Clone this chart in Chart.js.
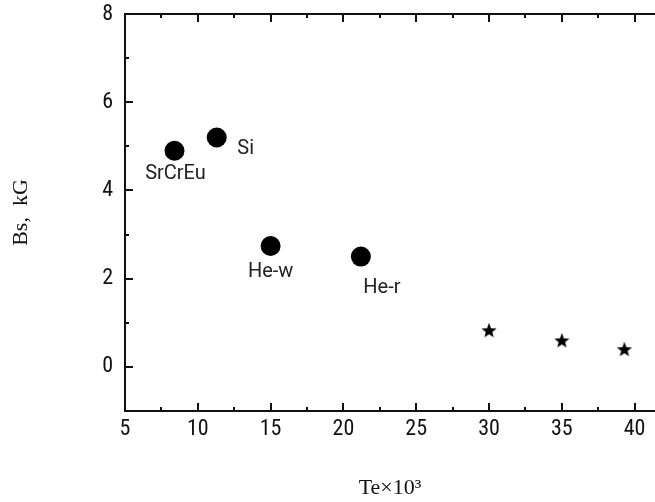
<!DOCTYPE html>
<html>
<head>
<meta charset="utf-8">
<script src="https://cdn.jsdelivr.net/npm/chart.js@4.4.0/dist/chart.umd.min.js"></script>
<style>
  html, body { margin: 0; padding: 0; background: #fff; overflow: hidden; }
  #wrap { width: 655px; height: 502px; }
</style>
</head>
<body>
<div id="wrap"><canvas id="bsChart" width="655" height="502"></canvas></div>
<script>
// ===== data =====
const circleNames = ["SrCrEu", "Si", "He-w", "He-r"];
const circleTe    = [8.4, 11.3, 15.0, 21.2];
const circleBs    = [4.9, 5.2, 2.74, 2.5];

const starTe = [30.0, 35.0, 39.3];
const starBs = [0.83, 0.6, 0.4];

// label placement relative to each circle (px)
const labelOffsets = [[1, 23], [29, 11], [0, 26], [21, 31]];

const tickFont  = "'Liberation Sans Narrow', 'Roboto Condensed', Roboto, sans-serif";
const titleFont = "'Liberation Serif', 'DejaVu Serif', serif";

// filled five-point star used as the point style
function makeStar(size) {
    const c = document.createElement("canvas");
    c.width = size; c.height = size;
    const g = c.getContext("2d");
    const cx = size / 2, cy = size / 2 + 0.6;
    const R = size / 2, r = R * 0.42;
    g.beginPath();
    for (let i = 0; i < 10; i++) {
        const rad = i % 2 === 0 ? R : r;
        const a = -Math.PI / 2 + i * Math.PI / 5;
        const px = cx + rad * Math.cos(a);
        const py = cy + rad * Math.sin(a);
        if (i === 0) g.moveTo(px, py); else g.lineTo(px, py);
    }
    g.closePath();
    g.fillStyle = "#000";
    g.fill();
    return c;
}

// no automatic label overhang padding; the plot box is fixed
function noPad(s) {
    s.paddingLeft = 0; s.paddingRight = 0;
    s.paddingTop = 0;  s.paddingBottom = 0;
}

// inward tick marks on bottom, top and left axes
const inwardTicks = {
    id: "inwardTicks",
    afterDraw(chart) {
        const ctx = chart.ctx;
        const area = chart.chartArea;
        ctx.save();
        ctx.strokeStyle = "#111";
        ctx.lineWidth = 2;
        const xs = chart.scales.x;
        xs.ticks.forEach(t => {
            const px = Math.round(xs.getPixelForValue(t.value));
            const len = (t.value % 5 === 0) ? 8 : 4;
            ctx.beginPath();
            ctx.moveTo(px, area.bottom); ctx.lineTo(px, area.bottom - len);
            ctx.moveTo(px, area.top);    ctx.lineTo(px, area.top + len);
            ctx.stroke();
        });
        const ys = chart.scales.y;
        ys.ticks.forEach(t => {
            if (t.value <= ys.min) return;
            const py = Math.round(ys.getPixelForValue(t.value));
            const len = (t.value % 2 === 0) ? 8 : 4;
            ctx.beginPath();
            ctx.moveTo(area.left, py); ctx.lineTo(area.left + len, py);
            ctx.stroke();
        });
        ctx.restore();
    }
};

// text names next to the circles
const pointNames = {
    id: "pointNames",
    afterDatasetsDraw(chart) {
        const ctx = chart.ctx;
        const meta = chart.getDatasetMeta(0);
        ctx.save();
        ctx.font = "20px Roboto, 'Liberation Sans', sans-serif";
        ctx.fillStyle = "#222";
        ctx.textAlign = "center";
        ctx.textBaseline = "middle";
        meta.data.forEach((el, i) => {
            const off = labelOffsets[i];
            ctx.fillText(circleNames[i], el.x + off[0], el.y + off[1]);
        });
        ctx.restore();
    }
};

document.addEventListener("DOMContentLoaded", () => {
    const ctx = document.getElementById("bsChart");

    new Chart(ctx, {
        type: "scatter",
        data: {
            datasets: [
                {
                    label: "groups",
                    data: circleTe.map((t, i) => ({ x: t, y: circleBs[i] })),
                    pointStyle: "circle",
                    pointRadius: 10,
                    backgroundColor: "#000",
                    borderWidth: 0
                },
                {
                    label: "stars",
                    data: starTe.map((t, i) => ({ x: t, y: starBs[i] })),
                    pointStyle: makeStar(16),
                    pointRadius: 8
                }
            ]
        },
        options: {
            responsive: false,
            animation: false,
            layout: { autoPadding: false, padding: { top: 14, right: 0, bottom: 0, left: 0 } },
            plugins: { legend: { display: false }, tooltip: { enabled: false } },
            scales: {
                x: {
                    type: "linear",
                    position: "bottom",
                    min: 5,
                    max: 41.4,
                    afterFit: s => { s.height = 91; noPad(s); },
                    grid: { display: false, drawTicks: false },
                    border: { display: true, color: "#111", width: 2 },
                    ticks: {
                        stepSize: 2.5,
                        includeBounds: false,
                        autoSkip: false,
                        maxRotation: 0,
                        padding: 5,
                        color: "#111",
                        font: { family: tickFont, size: 22 },
                        callback: v => (v % 5 === 0 ? v : "")
                    },
                    title: {
                        display: true,
                        text: "Te×10³",
                        color: "#111",
                        font: { family: titleFont, size: 22 },
                        padding: { top: 0, bottom: 1 }
                    }
                },
                x2: {
                    type: "linear",
                    position: "top",
                    min: 5,
                    max: 41.4,
                    afterFit: s => { s.height = 0; noPad(s); },
                    grid: { display: false, drawTicks: false },
                    border: { display: true, color: "#111", width: 2 },
                    ticks: { display: false }
                },
                y: {
                    type: "linear",
                    position: "left",
                    min: -1,
                    max: 8,
                    afterFit: s => { s.width = 125; noPad(s); },
                    grid: { display: false, drawTicks: false },
                    border: { display: true, color: "#111", width: 2 },
                    ticks: {
                        stepSize: 1,
                        autoSkip: false,
                        padding: 12,
                        color: "#111",
                        font: { family: tickFont, size: 22 },
                        callback: v => (v >= 0 && v % 2 === 0 ? v : "")
                    },
                    title: {
                        display: true,
                        text: "Bs,  kG",
                        color: "#111",
                        font: { family: titleFont, size: 22 },
                        padding: { top: 8, bottom: 0 }
                    }
                }
            }
        },
        plugins: [inwardTicks, pointNames]
    });
});
</script>
</body>
</html>
